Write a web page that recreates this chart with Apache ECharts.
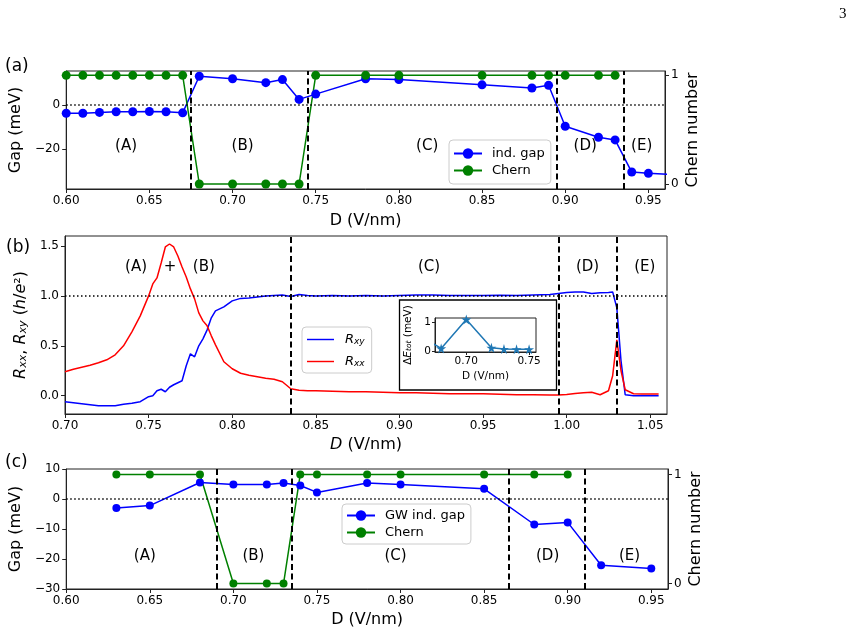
<!DOCTYPE html>
<html>
<head>
<meta charset="utf-8">
<script src="https://cdn.jsdelivr.net/npm/echarts@6/dist/echarts.min.js"></script>
<style>
html, body { margin: 0; padding: 0; background: #fff; }
#graph { width: 864px; height: 634px; }
</style>
</head>
<body>
<div id="graph"></div>
<script>
// ---- panel (a): DFT indirect gap + Chern number
let aGapD = [0.60, 0.61, 0.62, 0.63, 0.64, 0.65, 0.66, 0.67, 0.68, 0.70, 0.72, 0.73, 0.74, 0.75, 0.78, 0.80, 0.85, 0.88, 0.89, 0.90, 0.92, 0.93, 0.94, 0.95, 0.97];
let aGap = [-3.7, -3.7, -3.3, -3.0, -3.0, -2.9, -3.0, -3.5, 13.1, 12.0, 10.2, 11.6, 2.6, 5.0, 12.0, 11.6, 9.2, 7.8, 9.0, -9.6, -14.6, -15.8, -30.4, -31.0, -31.8];
let aChernD = [0.60, 0.61, 0.62, 0.63, 0.64, 0.65, 0.66, 0.67, 0.68, 0.70, 0.72, 0.73, 0.74, 0.75, 0.78, 0.80, 0.85, 0.88, 0.89, 0.90, 0.92, 0.93];
let aChern = [1, 1, 1, 1, 1, 1, 1, 1, 0, 0, 0, 0, 0, 1, 1, 1, 1, 1, 1, 1, 1, 1];
let aSplits = [0.675, 0.745, 0.895, 0.935];
let aRegionD = [0.636, 0.706, 0.817, 0.912, 0.946];
let aRegionY = -18.8;

// ---- panel (b): measured Rxx, Rxy
let bD = [0.700, 0.705, 0.710, 0.715, 0.720, 0.725, 0.730, 0.735, 0.740, 0.745, 0.750, 0.7525, 0.755, 0.7575, 0.760, 0.7625, 0.765, 0.7675, 0.770, 0.7725, 0.775, 0.7775, 0.780, 0.7825, 0.785, 0.7875, 0.790, 0.795, 0.800, 0.805, 0.810, 0.815, 0.820, 0.825, 0.830, 0.835, 0.840, 0.845, 0.850, 0.860, 0.870, 0.880, 0.890, 0.900, 0.910, 0.920, 0.930, 0.940, 0.950, 0.960, 0.970, 0.980, 0.990, 0.995, 1.000, 1.005, 1.010, 1.015, 1.020, 1.025, 1.0275, 1.030, 1.0325, 1.035, 1.040, 1.045, 1.050, 1.055];
let bRxy = [-0.06, -0.07, -0.08, -0.09, -0.10, -0.10, -0.10, -0.085, -0.075, -0.06, -0.01, 0.0, 0.05, 0.065, 0.04, 0.085, 0.11, 0.13, 0.15, 0.30, 0.42, 0.39, 0.50, 0.57, 0.66, 0.78, 0.85, 0.89, 0.95, 0.975, 0.98, 0.99, 1.0, 1.005, 1.01, 0.995, 1.015, 1.005, 1.0, 1.005, 1.0, 1.003, 1.0, 1.005, 1.008, 1.01, 1.005, 1.003, 1.005, 1.007, 1.004, 1.01, 1.015, 1.025, 1.035, 1.04, 1.038, 1.025, 1.032, 1.035, 1.04, 0.88, 0.35, 0.01, 0.0, 0.0, 0.0, 0.0];
let bRxx = [0.24, 0.265, 0.285, 0.305, 0.33, 0.36, 0.41, 0.50, 0.64, 0.80, 1.0, 1.12, 1.18, 1.33, 1.49, 1.52, 1.49, 1.40, 1.29, 1.19, 1.07, 0.97, 0.83, 0.75, 0.70, 0.60, 0.51, 0.34, 0.27, 0.225, 0.205, 0.19, 0.175, 0.165, 0.14, 0.07, 0.055, 0.05, 0.05, 0.045, 0.04, 0.04, 0.035, 0.03, 0.03, 0.025, 0.02, 0.02, 0.02, 0.015, 0.01, 0.01, 0.008, 0.008, 0.012, 0.022, 0.03, 0.035, 0.01, 0.05, 0.2, 0.56, 0.25, 0.06, 0.02, 0.018, 0.017, 0.017];
let bSplits = [0.835, 0.995, 1.030];
let bRegionD = [0.7425, 0.7628, 0.783, 0.9177, 1.0125, 1.0467];
let bRegionText = ['(A)', '+', '(B)', '(C)', '(D)', '(E)'];
let bRegionY = 1.29;

// ---- inset: total energy difference
let insetD = [0.67, 0.68, 0.70, 0.72, 0.73, 0.74, 0.75];
let insetE = [0.35, 0.1, 1.08, 0.12, 0.08, 0.07, 0.07];

// ---- panel (c): GW indirect gap + Chern number
let cGapD = [0.63, 0.65, 0.68, 0.70, 0.72, 0.73, 0.74, 0.75, 0.78, 0.80, 0.85, 0.88, 0.90, 0.92, 0.95];
let cGap = [-3.0, -2.2, 5.5, 4.8, 4.8, 5.3, 4.5, 2.2, 5.3, 4.8, 3.4, -8.5, -7.8, -22.1, -23.2];
let cChernD = [0.63, 0.65, 0.68, 0.70, 0.72, 0.73, 0.74, 0.75, 0.78, 0.80, 0.85, 0.88, 0.90];
let cChern = [1, 1, 1, 0, 0, 0, 1, 1, 1, 1, 1, 1, 1];
let cSplits = [0.69, 0.735, 0.865, 0.91];
let cRegionD = [0.647, 0.712, 0.797, 0.888, 0.937];
let cRegionY = -19.1;

let regionText = ['(A)', '(B)', '(C)', '(D)', '(E)'];
let gapTicksA = [-20, 0];
let gapTicksC = [-30, -20, -10, 0, 10];
let chernTicks = [0, 1];
let dTicksAC = [0.60, 0.65, 0.70, 0.75, 0.80, 0.85, 0.90, 0.95];
let dTicksB = [0.70, 0.75, 0.80, 0.85, 0.90, 0.95, 1.00, 1.05];
let rTicksB = [0.0, 0.5, 1.0, 1.5];
let dTicksInset = [0.70, 0.75];
let eTicksInset = [0, 1];

const FONT = 'DejaVu Sans';
const INK = '#222';
const STAR = 'path://M50,0 L61,35 L98,35 L68,57 L79,91 L50,70 L21,91 L32,57 L2,35 L39,35 Z';
const LINE_ICON = 'path://M0,0 L28,0 L28,1.5 L0,1.5 Z';

function zip(xs, ys) { return xs.map((x, i) => [x, ys[i]]); }
function minus(s) { return String(s).replace('-', '\u2212'); }

function axis(kind, idx, min, max, ticks, fmt, name, nameGap, small) {
	let fs = small ? 10.5 : 12;
	let a = {
		type: 'value',
		gridIndex: idx,
		min: min, max: max,
		splitLine: { show: false },
		axisLine: { show: true, onZero: false, lineStyle: { color: INK, width: 1 } },
		axisTick: { show: true, length: small ? 3 : 4, customValues: ticks, lineStyle: { color: INK } },
		axisLabel: { customValues: ticks, formatter: fmt, color: '#000', fontFamily: FONT, fontSize: fs, margin: small ? 4 : 6 },
		name: name,
		nameLocation: 'middle',
		nameGap: nameGap,
		nameTextStyle: { color: '#000', fontFamily: FONT, fontSize: small ? 10.5 : 16 }
	};
	if (kind == 'y') { a.nameRotate = 90; }
	return a;
}

let fmt2 = v => v.toFixed(2);
let fmt1 = v => v.toFixed(1);
let fmtInt = v => minus(Math.round(v));

function splitLines(vals) {
	return vals.map(v => ({ xAxis: v, lineStyle: { type: [6, 3.5], color: '#000', width: 2 } }));
}
function dotted(v) {
	return { yAxis: v, lineStyle: { type: [1.5, 2.5], color: '#000', width: 1.5 } };
}
function marks(vals, y) {
	return { silent: true, precision: 4, symbol: ['none', 'none'], label: { show: false }, animation: false, data: [dotted(y)].concat(splitLines(vals)) };
}
function regionSeries(xi, yi, ds, y, texts) {
	return {
		type: 'scatter', xAxisIndex: xi, yAxisIndex: yi, symbolSize: 1, silent: true, z: 6,
		itemStyle: { color: 'rgba(255,255,255,0)', opacity: 1 },
		label: { show: true, position: 'inside', opacity: 1, formatter: p => p.value[2], color: '#000', textBorderWidth: 0, fontFamily: FONT, fontSize: 15 },
		data: ds.map((d, i) => [d, y, texts[i]])
	};
}

let subRich = (big, small) => ({
	n: { fontFamily: FONT, fontSize: big, verticalAlign: 'top', lineHeight: big, color: '#000' },
	i: { fontFamily: FONT, fontSize: big, fontStyle: 'italic', verticalAlign: 'top', lineHeight: big, color: '#000' },
	s: { fontFamily: FONT, fontSize: small, fontStyle: 'italic', verticalAlign: 'bottom', lineHeight: small, padding: [Math.round(big * 0.45), 0, 0, 0], color: '#000' }
});

let legendBase = {
	orient: 'vertical', selectedMode: false,
	itemWidth: 28, itemHeight: 13, itemGap: 4,
	borderColor: '#ccc', borderWidth: 1, borderRadius: 4,
	backgroundColor: 'rgba(255,255,255,0.8)',
	textStyle: { fontFamily: FONT, fontSize: 13, color: '#000', padding: [0, 0, 0, 5] }
};

var myChart = echarts.init(document.getElementById('graph'), null, { width: 864, height: 634 });

let option = {
	animation: false,
	backgroundColor: '#fff',
	grid: [
		{ left: 65, top: 71, width: 600, height: 118, show: true, borderColor: INK, borderWidth: 1, backgroundColor: 'transparent' },
		{ left: 65, top: 236, width: 602, height: 178, show: true, borderColor: INK, borderWidth: 1, backgroundColor: 'transparent' },
		{ left: 65, top: 469, width: 603, height: 120, show: true, borderColor: INK, borderWidth: 1, backgroundColor: 'transparent' },
		{ left: 435, top: 318, width: 101, height: 34, show: true, borderColor: INK, borderWidth: 1, backgroundColor: '#fff', z: 10 }
	],
	xAxis: [
		axis('x', 0, 0.60, 0.96, dTicksAC, fmt2, 'D (V/nm)', 24),
		Object.assign(axis('x', 1, 0.70, 1.06, dTicksB, fmt2, '{it|D} (V/nm)', 23), {
			nameTextStyle: { color: '#000', fontFamily: FONT, fontSize: 16, rich: { it: { fontFamily: FONT, fontSize: 16, fontStyle: 'italic', color: '#000' } } }
		}),
		axis('x', 2, 0.60, 0.96, dTicksAC, fmt2, 'D (V/nm)', 23),
		Object.assign(axis('x', 3, 0.6751, 0.7555, dTicksInset, fmt2, 'D (V/nm)', 19, true), { z: 10 })
	],
	yAxis: [
		axis('y', 0, -38.1, 15.5, gapTicksA, fmtInt, 'Gap (meV)', 37),
		Object.assign(axis('y', 0, -0.046, 1.04, chernTicks, fmtInt, 'Chern number', 20), { position: 'right', nameMoveOverlap: false }),
		Object.assign(axis('y', 1, -0.183, 1.60, rTicksB, fmt1, '{i|R}{s|xx}{n|, }{i|R}{s|xy}{n| (}{i|h}{n|/}{i|e}{n|\u00b2)}', 36), {
			nameTextStyle: { color: '#000', fontFamily: FONT, fontSize: 16, rich: subRich(16, 11) }
		}),
		axis('y', 2, -30, 10, gapTicksC, fmtInt, 'Gap (meV)', 38),
		Object.assign(axis('y', 2, -0.05, 1.05, chernTicks, fmtInt, 'Chern number', 20), { position: 'right', nameMoveOverlap: false }),
		Object.assign(axis('y', 3, -0.02, 1.13, eTicksInset, fmtInt, '{n|\u0394}{i|E}{s|tot}{n| (meV)}', 22, true), {
			z: 10,
			nameTextStyle: { color: '#000', fontFamily: FONT, fontSize: 10.5, rich: subRich(10.5, 7.5) }
		})
	],
	legend: [
		Object.assign({}, legendBase, { left: 449, top: 140, padding: [7, 6, 7, 4], data: ['ind. gap', 'Chern'] }),
		Object.assign({}, legendBase, {
			left: 302, top: 327, padding: [4, 7, 5, 5], itemWidth: 27, itemHeight: 16, itemGap: 7, icon: LINE_ICON,
			data: ['Rxy', 'Rxx'],
			formatter: name => name == 'Rxy' ? '{i|R}{s|xy}' : '{i|R}{s|xx}',
			textStyle: { fontFamily: FONT, fontSize: 13, color: '#000', padding: [0, 0, 0, 6], rich: subRich(13, 9) }
		}),
		Object.assign({}, legendBase, { left: 342, top: 504, padding: [5, 6, 5, 4], data: ['GW ind. gap', 'Chern'] })
	],
	graphic: [
		{ type: 'text', left: 5, top: 58, style: { text: '(a)', font: '17px "DejaVu Sans"', fill: '#000' } },
		{ type: 'text', left: 6, top: 239, style: { text: '(b)', font: '17px "DejaVu Sans"', fill: '#000' } },
		{ type: 'text', left: 5, top: 454, style: { text: '(c)', font: '17px "DejaVu Sans"', fill: '#000' } },
		{ type: 'text', left: 839, top: 7, style: { text: '3', font: '15px "Liberation Serif"', fill: '#000' } },
		{ type: 'rect', z: 5, shape: { x: 399.5, y: 300, width: 157, height: 90 }, style: { fill: '#fff', stroke: '#000', lineWidth: 1.3 } }
	],
	series: [
		{
			name: 'ind. gap', type: 'line', xAxisIndex: 0, yAxisIndex: 0, data: zip(aGapD, aGap),
			color: '#0000ff', symbol: 'circle', symbolSize: 9, lineStyle: { width: 1.5 },
			markLine: marks(aSplits, 0)
		},
		{
			name: 'Chern', type: 'line', xAxisIndex: 0, yAxisIndex: 1, data: zip(aChernD, aChern),
			color: '#008000', symbol: 'circle', symbolSize: 9, lineStyle: { width: 1.5 }
		},
		regionSeries(0, 0, aRegionD, aRegionY, regionText),
		{
			name: 'Rxy', type: 'line', xAxisIndex: 1, yAxisIndex: 2, data: zip(bD, bRxy),
			color: '#0000ff', symbol: 'none', lineStyle: { width: 1.5 },
			markLine: marks(bSplits, 1)
		},
		{
			name: 'Rxx', type: 'line', xAxisIndex: 1, yAxisIndex: 2, data: zip(bD, bRxx),
			color: '#ff0000', symbol: 'none', lineStyle: { width: 1.5 }
		},
		regionSeries(1, 2, bRegionD, bRegionY, bRegionText),
		{
			name: 'dE', type: 'line', xAxisIndex: 3, yAxisIndex: 5, data: zip(insetD, insetE), z: 12,
			color: '#1f77b4', symbol: STAR, symbolSize: 10, lineStyle: { width: 1.5 }
		},
		{
			name: 'GW ind. gap', type: 'line', xAxisIndex: 2, yAxisIndex: 3, data: zip(cGapD, cGap),
			color: '#0000ff', symbol: 'circle', symbolSize: 8, lineStyle: { width: 1.5 },
			markLine: marks(cSplits, 0)
		},
		{
			name: 'Chern', type: 'line', xAxisIndex: 2, yAxisIndex: 4, data: zip(cChernD, cChern),
			color: '#008000', symbol: 'circle', symbolSize: 8, lineStyle: { width: 1.5 }
		},
		regionSeries(2, 3, cRegionD, cRegionY, regionText)
	]
};

myChart.setOption(option);
</script>
</body>
</html>
